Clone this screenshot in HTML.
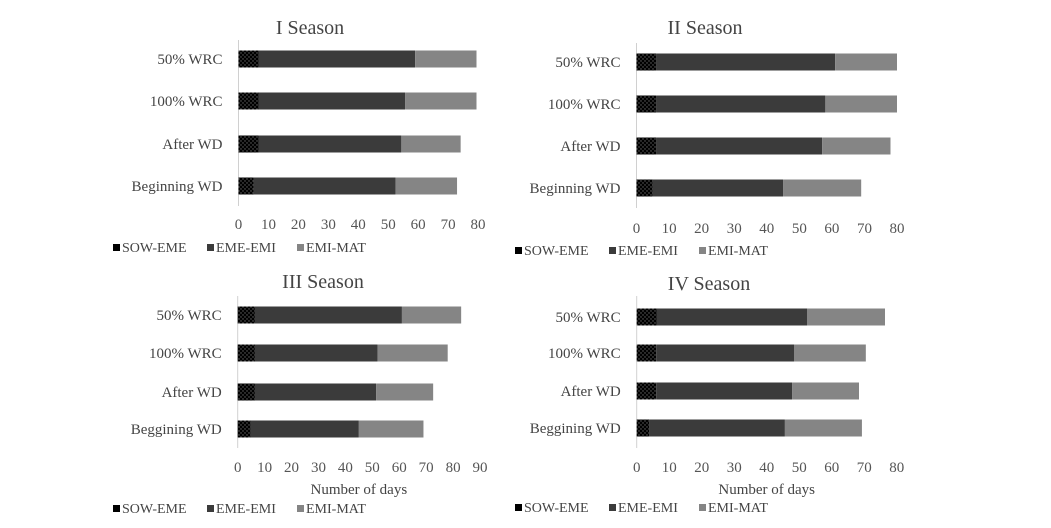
<!DOCTYPE html>
<html><head><meta charset="utf-8"><style>
html,body{margin:0;padding:0;background:#fff;}
svg{display:block;font-family:"Liberation Serif",serif;}
</style></head><body>
<svg id="chart" width="1051" height="528" viewBox="0 0 1051 528">
<defs>
<pattern id="dots" width="4" height="4" patternUnits="userSpaceOnUse">
<rect width="4" height="4" fill="#000"/><circle cx="1" cy="1" r="0.7" fill="#666"/><circle cx="3" cy="3" r="0.7" fill="#666"/>
</pattern>
</defs>
</svg>
<script>
const categories = ["50% WRC","100% WRC","After WD","Beginning WD"];
const categories2 = ["50% WRC","100% WRC","After WD","Beggining WD"];
const seriesNames = ["SOW-EME","EME-EMI","EMI-MAT"];
// durations per phase (days)
const s1SowEme = [6.7,6.7,6.7,5];
const s1EmeEmi = [52.3,49,47.7,47.5];
const s1EmiMat = [20.5,23.8,19.8,20.5];
const s2SowEme = [6,6,6,5];
const s2EmeEmi = [55,52,51,40];
const s2EmiMat = [19,22,21,24];
const s3SowEme = [6.4,6.4,6.4,4.8];
const s3EmeEmi = [54.6,45.6,45,40.2];
const s3EmiMat = [22,26,21.2,24];
const s4SowEme = [6.1,6,6,3.8];
const s4EmeEmi = [46.3,42.4,41.8,41.8];
const s4EmiMat = [24,22.1,20.6,23.7];
const ticks80 = [0,10,20,30,40,50,60,70,80];
const ticks90 = [0,10,20,30,40,50,60,70,80,90];

const svg = document.getElementById('chart');
const NS = "http://www.w3.org/2000/svg";
function mk(tag, attrs, parent){const e=document.createElementNS(NS,tag);for(const k in attrs)e.setAttribute(k,attrs[k]);(parent||svg).appendChild(e);return e;}

const panels = [
 {title:"I Season", tx:310, ty:34, x0:238.5, xmax:80, x1:478, cats:categories, ys:[59,101,144,186], axTop:40, axBot:206, tickY:229, ticks:ticks80, legY:252, legX:113, xlabel:null, d:[s1SowEme,s1EmeEmi,s1EmiMat]},
 {title:"II Season", tx:705, ty:34, x0:636.5, xmax:80, x1:897, cats:categories, ys:[62,104,146,188], axTop:43, axBot:208, tickY:233, ticks:ticks80, legY:255, legX:515, xlabel:null, d:[s2SowEme,s2EmeEmi,s2EmiMat]},
 {title:"III Season", tx:323, ty:288, x0:237.7, xmax:90, x1:480, cats:categories2, ys:[315,353,392,429], axTop:296, axBot:448, tickY:472, ticks:ticks90, legY:513, legX:113, xlabel:"Number of days", xly:494, d:[s3SowEme,s3EmeEmi,s3EmiMat]},
 {title:"IV Season", tx:709, ty:290, x0:636.7, xmax:80, x1:896.7, cats:categories2, ys:[317,353,391,428], axTop:296, axBot:448, tickY:472, ticks:ticks80, legY:512, legX:515, xlabel:"Number of days", xly:494, d:[s4SowEme,s4EmeEmi,s4EmiMat]}
];
const fills = ["url(#dots)","#3b3b3b","#858585"];
const bh = 17;

panels.forEach((p,pi)=>{
  const g = mk('g',{});
  
  
  const xs = v => p.x0 + v*(p.x1-p.x0)/p.xmax;
  const t = mk('text',{x:p.tx,y:p.ty,'text-anchor':'middle','font-size':20,fill:'#444'},g);
  t.textContent = p.title;
  
  
  const ax = mk('line',{x1:p.x0,x2:p.x0,y1:p.axTop,y2:p.axBot,stroke:'#d0d0d0','stroke-width':1},g);
  
  
  p.ticks.forEach(tv=>{
    const tt = mk('text',{x:xs(tv),y:p.tickY,'text-anchor':'middle','font-size':15,fill:'#555'},g);
    tt.textContent = tv;
    
    
  });
  p.cats.forEach((c,i)=>{
    const lt = mk('text',{x:p.x0-16,y:p.ys[i]+5,'text-anchor':'end','font-size':15,fill:'#444'},g);
    lt.textContent = c;
    
    
    let acc = 0;
    for(let s=0;s<3;s++){
      const v = p.d[s][i];
      const r = mk('rect',{x:xs(acc),y:p.ys[i]-bh/2,width:xs(acc+v)-xs(acc),height:bh,fill:fills[s]},g);
      
      
      acc += v;
    }
  });
  if(p.xlabel){
    const xl = mk('text',{x:(p.x0+p.x1)/2,y:p.xly,'text-anchor':'middle','font-size':15,fill:'#444'},g);
    xl.textContent = p.xlabel;
    
    
  }
  let lx = p.legX;
  const legW = [94,90,82];
  seriesNames.forEach((n,s)=>{
    const sq = mk('rect',{x:lx,y:p.legY-8,width:7,height:7,fill:s===0?'#000':fills[s]},g);
    
    
    const lt = mk('text',{x:lx+9,y:p.legY,'font-size':14,fill:'#444'},g);
    lt.textContent = n;
    
    
    lx += legW[s];
  });
});
</script>
</body></html>
